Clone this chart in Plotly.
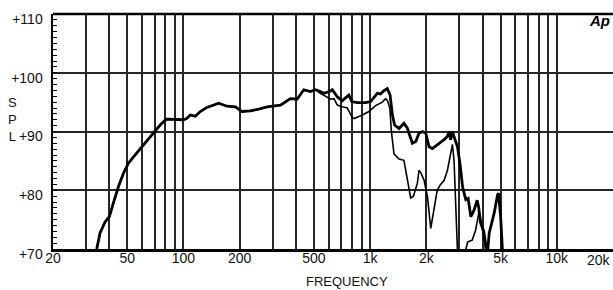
import math
import plotly.graph_objects as go

# ---------------- data ----------------
# shared low-frequency part (both curves coincide here)
low_freq = [34.3, 35.7, 38.0, 40.1, 42.1, 44.8, 47.7, 50.7, 54.0, 61.0, 69.1, 75.0,
            80.9, 92.3, 100, 104, 108.8, 115.7, 123, 133.6, 154.3, 171.2, 189.8,
            206, 228, 253, 281, 331, 374, 406, 441, 479, 510]
low_spl = [70.0, 72.7, 74.6, 75.5, 77.8, 80.6, 82.9, 84.6, 85.7, 87.7, 89.7, 91.1,
           92.1, 92.1, 92.0, 92.2, 92.8, 92.6, 93.4, 94.1, 94.8, 94.3, 94.2,
           93.4, 93.5, 93.8, 94.2, 94.5, 95.6, 95.5, 97.1, 96.8, 97.1]

# thick curve, above 510 Hz
thick_freq_hi = [541, 565, 614, 627, 667, 709, 730, 769, 798, 853, 946, 1006, 1093,
                 1137, 1180, 1236, 1279, 1316, 1352, 1428, 1517, 1580, 1684, 1756,
                 1826, 1908, 1987, 2068, 2154, 2287, 2490, 2595, 2646, 2700, 2760,
                 2815, 2937, 3030, 3130, 3255, 3350, 3464, 3602, 3746, 3820, 3900,
                 4060, 4190, 4260, 4342, 4617, 4815, 4870, 5000, 5058, 5150]
thick_spl_hi = [96.8, 96.5, 96.9, 97.1, 95.9, 95.2, 95.6, 96.2, 95.1, 94.9, 94.9, 95.1,
                96.5, 96.4, 96.9, 97.3, 96.2, 92.8, 91.1, 90.5, 91.4, 90.6, 88.0, 88.3,
                89.7, 90.0, 89.7, 87.4, 87.1, 87.7, 88.6, 89.2, 90.0, 88.6, 90.0,
                89.1, 87.4, 84.5, 80.5, 78.4, 78.6, 75.5, 76.6, 78.3, 77.0, 74.5,
                73.0, 70.1, 69.5, 72.7, 76.1, 79.2, 79.5, 75.5, 70.0, 68.0]

# thin curve, above 510 Hz
thin_freq_hi = [541, 614, 640, 667, 709, 754, 798, 821, 908, 985, 1070, 1162, 1211,
                1236, 1275, 1300, 1342, 1428, 1517, 1580, 1649, 1705, 1791, 1826,
                1867, 1945, 2028, 2112, 2189, 2287, 2374, 2490, 2595, 2700, 2760,
                2815, 2890, 2950, 3150, 3330, 3520, 3670, 3820, 3900, 4040, 4120, 4200]
thin_spl_hi = [96.5, 95.5, 95.6, 94.5, 94.2, 94.0, 92.5, 92.2, 92.8, 93.4, 94.4, 95.0, 95.6,
               95.3, 94.0, 90.0, 86.2, 85.3, 85.1, 82.3, 78.7, 79.0, 81.2, 83.4,
               83.0, 81.7, 78.9, 73.5, 76.6, 80.0, 80.9, 81.7, 83.4, 86.3, 87.8,
               85.1, 76.6, 68.0, 68.0, 71.2, 71.5, 73.2, 76.1, 75.3, 72.4, 71.0, 68.0]

thick_freq = low_freq + thick_freq_hi
thick_spl = low_spl + thick_spl_hi
thin_freq = low_freq + thin_freq_hi
thin_spl = low_spl + thin_spl_hi

grid_freqs = [20, 30, 40, 50, 60, 70, 80, 90,
              100, 200, 300, 400, 500, 600, 700, 800, 900,
              1000, 2000, 3000, 4000, 5000, 6000, 7000, 8000, 9000, 10000]
labeled_freqs = {20: "20", 50: "50", 100: "100", 200: "200", 500: "500",
                 1000: "1k", 2000: "2k", 5000: "5k", 10000: "10k"}
last_freq_label = "20k"
y_ticks = [70, 80, 90, 100, 110]
y_ticktext = ["+70", "+80", "+90", "+100", "+110"]

FONT = "Liberation Sans, Arial, sans-serif"
GRID = "#262626"

fig = go.Figure()
fig.add_trace(go.Scatter(x=thin_freq, y=thin_spl, mode="lines",
                         line=dict(color="black", width=1.6), hoverinfo="skip"))
fig.add_trace(go.Scatter(x=thick_freq, y=thick_spl, mode="lines",
                         line=dict(color="black", width=2.8), hoverinfo="skip"))

fig.update_layout(
    width=613, height=290,
    margin=dict(l=53, r=0, t=14, b=41, autoexpand=False),
    paper_bgcolor="white", plot_bgcolor="white",
    showlegend=False,
    font=dict(family=FONT, size=14, color="#111"),
)

fig.update_xaxes(
    type="log", range=[math.log10(20), math.log10(20000)],
    tickvals=grid_freqs,
    ticktext=[labeled_freqs.get(f, "") for f in grid_freqs],
    showgrid=True, gridcolor=GRID, gridwidth=2,
    showline=True, linecolor="black", linewidth=2.5,
    ticks="", zeroline=False, tickangle=0, automargin=False,
    ticklabelstandoff=-5,
    tickfont=dict(size=14, family=FONT, color="#111"),
)
fig.update_yaxes(
    range=[70, 110],
    tickvals=y_ticks, ticktext=y_ticktext,
    showgrid=True, gridcolor=GRID, gridwidth=2,
    showline=True, linecolor="black", linewidth=2.5,
    ticks="inside", ticklen=4, tickcolor="black",
    minor=dict(dtick=1, ticks="inside", ticklen=4, tickcolor="black", tickwidth=1, showgrid=False),
    zeroline=False, automargin=False,
    ticklabelstandoff=5, ticklabelshift=5,
    tickfont=dict(size=14, family=FONT, color="#111"),
)

# top border
fig.add_shape(type="line", xref="paper", yref="paper", x0=0, x1=1, y0=1, y1=1,
              line=dict(color="black", width=2.5))

# labels
fig.add_annotation(text=last_freq_label, xref="paper", yref="paper", x=1, y=0,
                   xanchor="right", yanchor="top", yshift=-1, showarrow=False,
                   font=dict(size=14, family=FONT, color="#111"))
fig.add_annotation(text="FREQUENCY", xref="paper", yref="paper", x=0.525, y=-0.14,
                   xanchor="center", yanchor="middle", showarrow=False,
                   font=dict(size=13, family=FONT, color="#111"))
fig.add_annotation(text="S<br>P<br>L", xref="paper", yref="paper", x=-0.072, y=0.55,
                   xanchor="center", yanchor="middle", showarrow=False, align="center",
                   font=dict(size=13, family=FONT, color="#111"))
fig.add_annotation(text="<b><i>Ap</i></b>", xref="paper", yref="paper", x=0.975, y=0.972,
                   xanchor="center", yanchor="middle", showarrow=False,
                   font=dict(size=15, family=FONT, color="black"))

fig.write_html(
    "out.html",
    config={"displayModeBar": False, "staticPlot": True},
    post_script="document.body.style.margin='0';document.body.style.padding='0';"
                "document.documentElement.style.margin='0';",
)
